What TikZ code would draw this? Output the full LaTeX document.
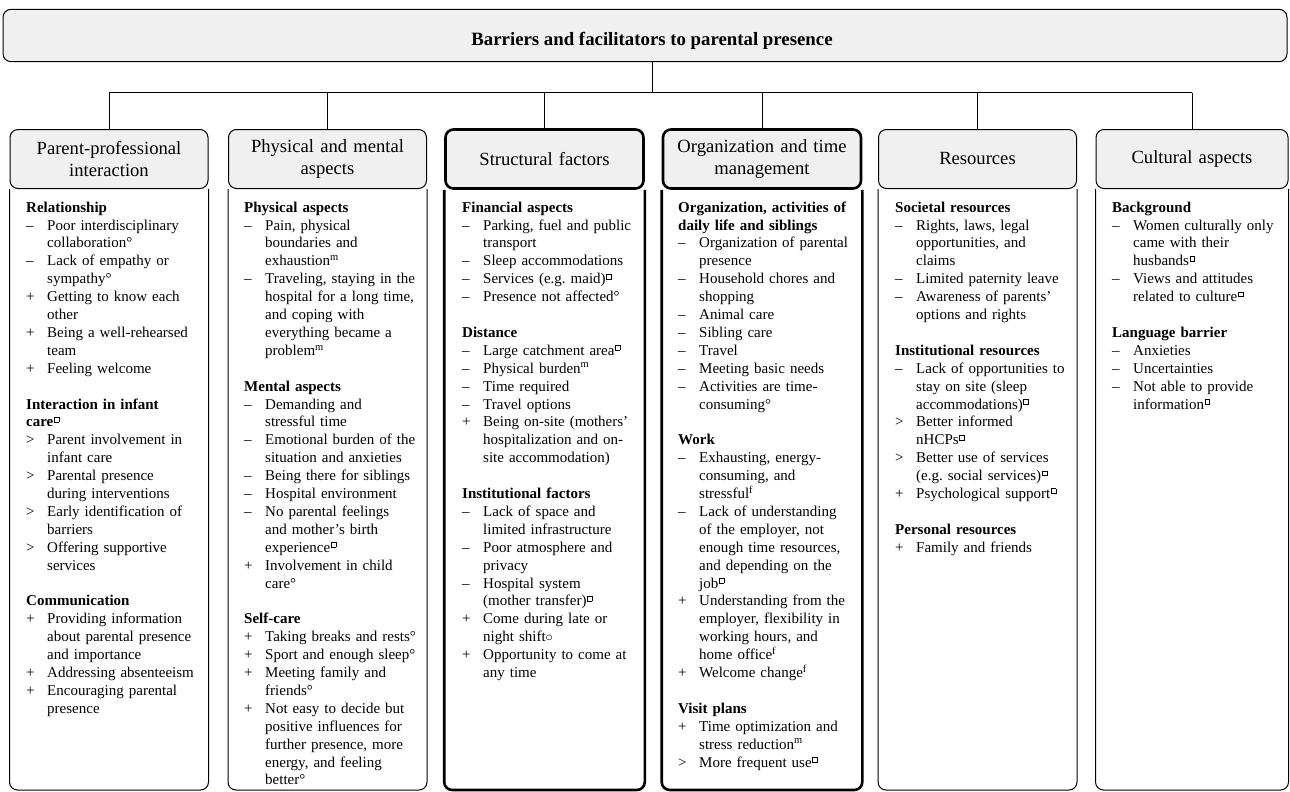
\documentclass[tikz,border=0pt]{standalone}
\usepackage{fontspec}
\setmainfont{Liberation Serif}
\usetikzlibrary{positioning}
\frenchspacing

\definecolor{headgray}{HTML}{F0F0F0}

% small marks after the items
\newcommand{\sqm}{\kern0.6pt\raisebox{5.2pt}{\fboxsep=0pt\fboxrule=0.45pt\fbox{\hbox to 4.4pt{\vrule height 4.4pt width 0pt\hfil}}}}
\newcommand{\grp}[1]{\par\noindent\strut\textbf{#1}}
\newcommand{\itm}[2]{\par\noindent\hangindent=21pt\hangafter=1\makebox[21pt][l]{#1}#2}
\newcommand{\skipln}{\par\vspace{17.9pt}}

\begin{document}
\begin{tikzpicture}[x=1pt,y=-1pt,
  maintitle/.style={draw, line width=1pt, rounded corners=8pt, fill=headgray,
    minimum width=1284pt, minimum height=52.4pt, text height=25pt, text depth=4pt,
    font=\bfseries\fontsize{18.8}{22}\selectfont},
  colhead/.style={draw, line width=1pt, rounded corners=8pt, fill=headgray,
    minimum width=198pt, minimum height=59pt, text width=190pt, align=center,
    inner sep=0pt, font=\fontsize{18.6}{22}\selectfont},
  colbody/.style={draw, line width=1pt, rounded corners=8pt},
  strong/.style={line width=2.6pt},
  bodytxt/.style={anchor=north west, inner sep=0pt, text width=185pt,
    align=left, font=\fontsize{15}{17.9}\selectfont},
  link/.style={line width=0.9pt}]
\useasboundingbox (0,0) rectangle (1290,792);

% Title and column heads
\node[maintitle] (title) at (645,35.5) {\hspace*{14pt}Barriers and facilitators to parental presence};
\node[colhead] (h1) at (109,159) {Parent-professional\\interaction};
\node[colhead] (h2) at (327.5,159) {Physical and mental\\aspects};
\node[colhead, strong] (h3) at (544.5,159) {Structural factors};
\node[colhead, strong] (h4) at (762,159) {Organization and time\\management};
\node[colhead] (h5) at (977.5,159) {Resources};
\node[colhead, minimum width=192pt] (h6) at (1192,159) {Cultural aspects};

% Column bodies
\foreach \c in {h1,h2,h5,h6}
  \draw[colbody] (\c.south west) -- (\c.south west |- 0,790) -- (\c.south east |- 0,790) -- (\c.south east);
\foreach \c in {h3,h4}
  \draw[colbody, strong] (\c.south west) -- (\c.south west |- 0,790) -- (\c.south east |- 0,790) -- (\c.south east);

% Tree lines
\coordinate (bus) at (652,92.5);
\draw[link] (bus |- title.south) -- (bus);
\draw[link] (bus -| h1.north) -- (bus -| h6.north);
\foreach \c in {h1,h2,h3,h4,h5,h6}
  \draw[link] (bus -| \c.north) -- (\c.north);

% Texts
\node[bodytxt] (t1) at (26,194) {%
\grp{Relationship}
\itm{--}{Poor interdisciplinary\newline collaboration°}
\itm{--}{Lack of empathy or\newline sympathy°}
\itm{+}{Getting to know each\newline other}
\itm{+}{Being a well-rehearsed\newline team}
\itm{+}{Feeling welcome}
\skipln
\grp{Interaction in infant\newline care\sqm}
\itm{>}{Parent involvement in\newline infant care}
\itm{>}{Parental presence\newline during interventions}
\itm{>}{Early identification of\newline barriers}
\itm{>}{Offering supportive\newline services}
\skipln
\grp{Communication}
\itm{+}{Providing information\newline about parental presence\newline and importance}
\itm{+}{Addressing absenteeism}
\itm{+}{Encouraging parental\newline presence}\par};

\node[bodytxt] (t2) at (244,194) {%
\grp{Physical aspects}
\itm{--}{Pain, physical\newline boundaries and\newline exhaustion\textsuperscript{m}}
\itm{--}{Traveling, staying in the\newline hospital for a long time,\newline and coping with\newline everything became a\newline problem\textsuperscript{m}}
\skipln
\grp{Mental aspects}
\itm{--}{Demanding and\newline stressful time}
\itm{--}{Emotional burden of the\newline situation and anxieties}
\itm{--}{Being there for siblings}
\itm{--}{Hospital environment}
\itm{--}{No parental feelings\newline and mother's birth\newline experience\sqm}
\itm{+}{Involvement in child\newline care°}
\skipln
\grp{Self-care}
\itm{+}{Taking breaks and rests°}
\itm{+}{Sport and enough sleep°}
\itm{+}{Meeting family and\newline friends°}
\itm{+}{Not easy to decide but\newline positive influences for\newline further presence, more\newline energy, and feeling\newline better°}\par};

\node[bodytxt] (t3) at (462,194) {%
\grp{Financial aspects}
\itm{--}{Parking, fuel and public\newline transport}
\itm{--}{Sleep accommodations}
\itm{--}{Services (e.g. maid)\sqm}
\itm{--}{Presence not affected°}
\skipln
\grp{Distance}
\itm{--}{Large catchment area\sqm}
\itm{--}{Physical burden\textsuperscript{m}}
\itm{--}{Time required}
\itm{--}{Travel options}
\itm{+}{Being on-site (mothers'\newline hospitalization and on-\newline site accommodation)}
\skipln
\grp{Institutional factors}
\itm{--}{Lack of space and\newline limited infrastructure}
\itm{--}{Poor atmosphere and\newline privacy}
\itm{--}{Hospital system\newline (mother transfer)\sqm}
\itm{+}{Come during late or\newline night shift$\circ$}
\itm{+}{Opportunity to come at\newline any time}\par};

\node[bodytxt] (t4) at (678,194) {%
\grp{Organization, activities of\newline daily life and siblings}
\itm{--}{Organization of parental\newline presence}
\itm{--}{Household chores and\newline shopping}
\itm{--}{Animal care}
\itm{--}{Sibling care}
\itm{--}{Travel}
\itm{--}{Meeting basic needs}
\itm{--}{Activities are time-\newline consuming°}
\skipln
\grp{Work}
\itm{--}{Exhausting, energy-\newline consuming, and\newline stressful\textsuperscript{f}}
\itm{--}{Lack of understanding\newline of the employer, not\newline enough time resources,\newline and depending on the\newline job\sqm}
\itm{+}{Understanding from the\newline employer, flexibility in\newline working hours, and\newline home office\textsuperscript{f}}
\itm{+}{Welcome change\textsuperscript{f}}
\skipln
\grp{Visit plans}
\itm{+}{Time optimization and\newline stress reduction\textsuperscript{m}}
\itm{>}{More frequent use\sqm}\par};

\node[bodytxt] (t5) at (895,194) {%
\grp{Societal resources}
\itm{--}{Rights, laws, legal\newline opportunities, and\newline claims}
\itm{--}{Limited paternity leave}
\itm{--}{Awareness of parents'\newline options and rights}
\skipln
\grp{Institutional resources}
\itm{--}{Lack of opportunities to\newline stay on site (sleep\newline accommodations)\sqm}
\itm{>}{Better informed\newline nHCPs\sqm}
\itm{>}{Better use of services\newline (e.g. social services)\sqm}
\itm{+}{Psychological support\sqm}
\skipln
\grp{Personal resources}
\itm{+}{Family and friends}\par};

\node[bodytxt] (t6) at (1112,194) {%
\grp{Background}
\itm{--}{Women culturally only\newline came with their\newline husbands\sqm}
\itm{--}{Views and attitudes\newline related to culture\sqm}
\skipln
\grp{Language barrier}
\itm{--}{Anxieties}
\itm{--}{Uncertainties}
\itm{--}{Not able to provide\newline information\sqm}\par};
\end{tikzpicture}
\end{document}
